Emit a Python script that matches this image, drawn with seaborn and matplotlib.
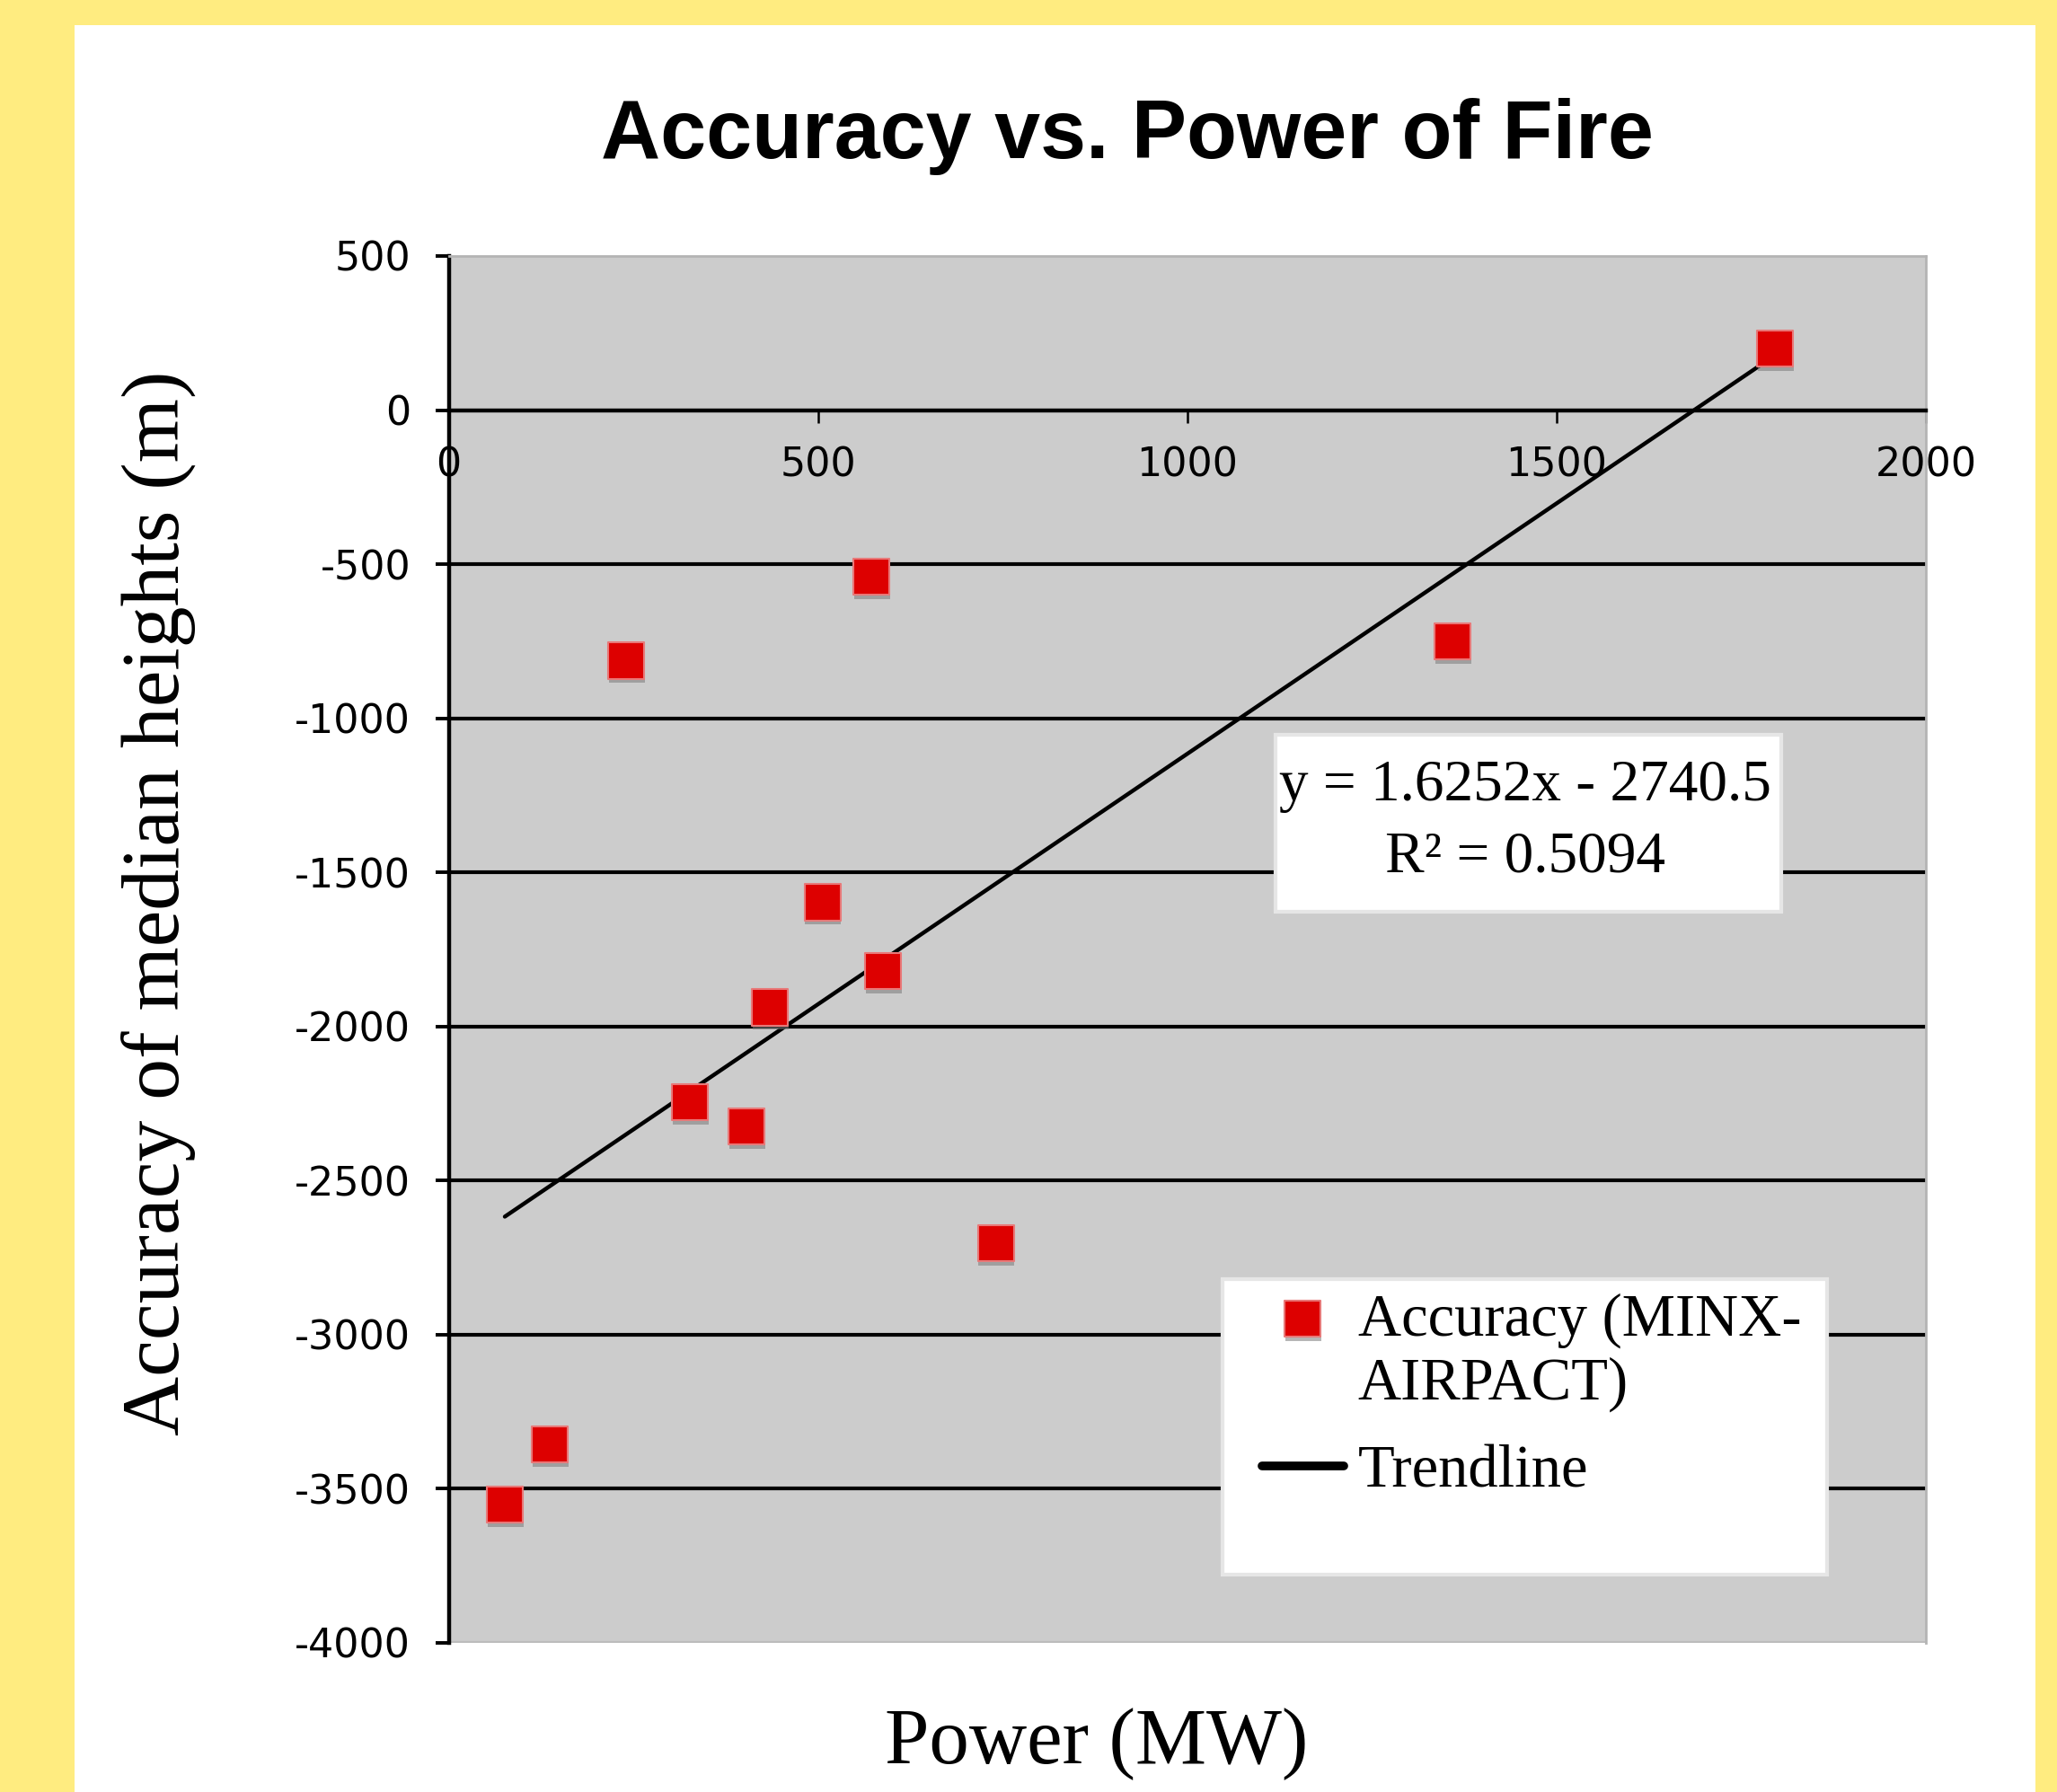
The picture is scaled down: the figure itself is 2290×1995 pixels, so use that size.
import numpy as np
import pandas as pd
import seaborn as sns
import matplotlib.pyplot as plt
import matplotlib.patheffects as pe
from matplotlib.patches import Rectangle
from matplotlib.legend_handler import HandlerPathCollection

# Fire power vs. accuracy of median heights
power_mw = [76, 137, 240, 327, 403, 435, 506, 572, 588, 741, 1359, 1796]
accuracy_m = [-3552, -3356, -813, -2245, -2325, -1938, -1597, -541, -1819, -2704, -750, 200]

# Excel trendline as reported on the chart
trend_slope = 1.6252
trend_intercept = -2740.5
r_squared = 0.5094

x_ticks = [0, 500, 1000, 1500, 2000]
y_ticks = [500, 0, -500, -1000, -1500, -2000, -2500, -3000, -3500, -4000]

df = pd.DataFrame({'power': power_mw, 'accuracy': accuracy_m})
trend_x = [min(power_mw), max(power_mw)]
trend_df = pd.DataFrame({'power': trend_x,
                         'accuracy': [trend_slope * x + trend_intercept for x in trend_x]})

sns.set_theme(style='white')
plt.rcParams['font.family'] = ['DejaVu Sans']
plt.rcParams['axes.unicode_minus'] = False
plt.rcParams['text.color'] = 'black'

W, H = 2290, 1995
fig = plt.figure(figsize=(W / 100, H / 100), dpi=100, facecolor='#ffec80')
# white card on the yellow page
fig.add_artist(Rectangle((83 / W, 0), (2266 - 83) / W, 1 - 28 / H, transform=fig.transFigure,
                         facecolor='white', edgecolor='none', zorder=-1))

ax = fig.add_axes([499.5 / W, 1 - 1829 / H, 1644.5 / W, 1544 / H])
ax.set_facecolor('#cccccc')
ax.set_xlim(0, 2000)
ax.set_ylim(-4000, 500)

# horizontal gridlines (0 is the x axis itself)
for y in y_ticks[2:-1]:
    ax.axhline(y, color='black', lw=3, zorder=1)
ax.axhline(y_ticks[-1], color='#bcbcbc', lw=3, zorder=1)

sns.scatterplot(data=df, x='power', y='accuracy', ax=ax, marker='s', s=830,
                color='#dd0000', edgecolor='#e87878', linewidth=1.5,
                label='Accuracy (MINX-\nAIRPACT)', zorder=4)
sc = ax.collections[-1]
sc.set_path_effects([pe.SimplePatchShadow(offset=(0.5, -3.5), shadow_rgbFace='#7a7a7a', alpha=0.55),
                     pe.Normal()])
sns.lineplot(data=trend_df, x='power', y='accuracy', ax=ax, color='black', linewidth=3.2,
             label='Trendline', zorder=3)

# axes look
ax.spines['bottom'].set_position(('data', 0))
ax.spines['bottom'].set_color('black')
ax.spines['bottom'].set_linewidth(3.2)
ax.spines['left'].set_color('black')
ax.spines['left'].set_linewidth(3.2)
for s in ['top', 'right']:
    ax.spines[s].set_color('#b4b4b4')
    ax.spines[s].set_linewidth(2)

ax.set_xticks(x_ticks)
ax.set_xticklabels([str(v) for v in x_ticks])
ax.set_yticks(y_ticks)
ax.set_yticklabels([str(v) for v in y_ticks])
ax.tick_params(axis='x', bottom=True, direction='out', length=10, width=1.8, pad=19,
               labelsize=32, colors='black')
ax.tick_params(axis='y', left=True, direction='out', length=10.5, width=2.8, pad=20,
               labelsize=32, colors='black')
ax.set_xlabel('')
ax.set_ylabel('')

fig.text(0.548, 0.912, 'Accuracy vs. Power of Fire', ha='center', va='baseline',
         fontsize=66, fontweight='bold', family='Liberation Sans')
fig.text(0.077, 0.496, 'Accuracy of median heights (m)', rotation=90, ha='center', va='center',
         fontsize=66, family='Liberation Serif')
fig.text(0.533, 0.016, 'Power (MW)', ha='center', va='baseline', fontsize=64,
         family='Liberation Serif')

# trendline equation box
ax.add_patch(Rectangle((0.5597, 0.527), 0.3423, 0.1278, transform=ax.transAxes,
                       facecolor='white', edgecolor='#e6e6e6', lw=3, zorder=5))
ax.text(0.729, 0.6075, f'y = {trend_slope}x - {abs(trend_intercept)}', transform=ax.transAxes,
        ha='center', va='baseline', fontsize=47, family='Liberation Serif', zorder=6)
ax.text(0.729, 0.5557, f'R² = {r_squared}', transform=ax.transAxes,
        ha='center', va='baseline', fontsize=47, family='Liberation Serif', zorder=6)

# legend box
ax.add_patch(Rectangle((0.5239, 0.0492), 0.4092, 0.2131, transform=ax.transAxes,
                       facecolor='white', edgecolor='#e6e6e6', lw=3, zorder=5))
handles, labels = ax.get_legend_handles_labels()
leg = ax.legend(handles, labels, loc='upper left', bbox_to_anchor=(0.5506, 0.2525),
                frameon=False, prop={'family': 'Liberation Serif', 'size': 48},
                handlelength=1.36, handletextpad=0.24, labelspacing=0.55,
                borderpad=0, borderaxespad=0,
                handler_map={sc: HandlerPathCollection(yoffsets=[1.3])})
leg.get_lines()[0].set_linewidth(7)
leg.set_zorder(7)

fig.savefig('out.png', dpi=100, facecolor=fig.get_facecolor())
